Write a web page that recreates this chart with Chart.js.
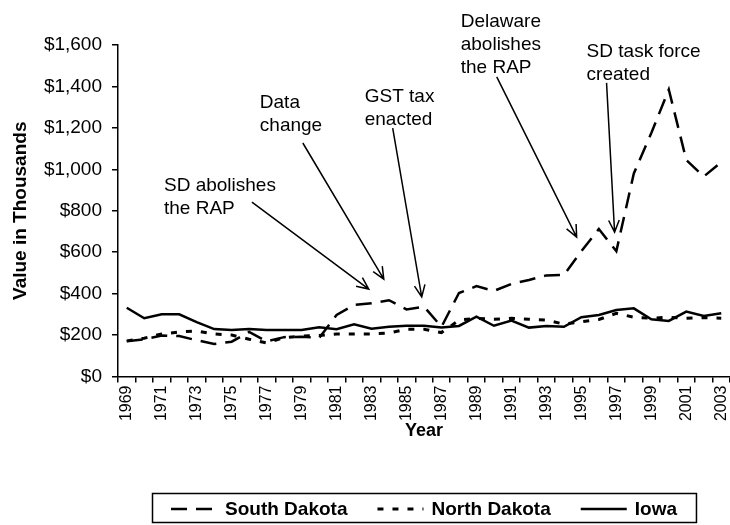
<!DOCTYPE html>
<html lang="en">
<head>
  <meta charset="UTF-8">
  <title>Value in Thousands</title>
  <script src="https://cdn.jsdelivr.net/npm/chart.js"></script>
  <style>
    body { margin: 0; background: #fff; }
  </style>
</head>
<body>
  <canvas id="valueChart" width="730" height="525"></canvas>

  <script>
    var years = ["1969", "1970", "1971", "1972", "1973", "1974", "1975", "1976", "1977", "1978",
      "1979", "1980", "1981", "1982", "1983", "1984", "1985", "1986", "1987", "1988",
      "1989", "1990", "1991", "1992", "1993", "1994", "1995", "1996", "1997", "1998",
      "1999", "2000", "2001", "2002", "2003"];

    var southDakota = [170, 180, 198, 195, 175, 157, 168, 215, 170, 190,
      192, 186, 297, 345, 353, 368, 324, 337, 240, 403,
      436, 413, 447, 466, 488, 490, 605, 712, 605, 980,
      1175, 1385, 1045, 965, 1035];

    var northDakota = [172, 185, 205, 215, 220, 205, 200, 180, 162, 188,
      195, 198, 205, 205, 205, 210, 228, 228, 212, 272,
      281, 276, 281, 276, 272, 253, 264, 275, 305, 286,
      281, 286, 281, 284, 281];

    var iowa = [332, 281, 300, 300, 262, 229, 224, 229, 224, 224,
      224, 238, 228, 252, 231, 240, 245, 245, 237, 244,
      289, 245, 270, 236, 244, 240, 286, 297, 321, 329,
      276, 268, 313, 292, 305];

    var yTicks = [0, 200, 400, 600, 800, 1000, 1200, 1400, 1600];

    // callouts, placed in [year, value] units
    var notes = [
      { text: ["SD abolishes", "the RAP"], at: [1971.13, 895], from: [1976.16, 842], to: [1982.84, 422] },
      { text: ["Data", "change"], at: [1976.61, 1296], from: [1979.07, 1127], to: [1983.70, 470] },
      { text: ["GST tax", "enacted"], at: [1982.61, 1325], from: [1984.21, 1199], to: [1985.87, 384] },
      { text: ["Delaware", "abolishes", "the RAP"], at: [1988.10, 1687], from: [1990.16, 1446], to: [1994.73, 673] },
      { text: ["SD task force", "created"], at: [1995.30, 1542], from: [1996.44, 1417], to: [1996.90, 697] }
    ];

    var font = 'Arial, "Liberation Sans", sans-serif';

    var notesPlugin = {
      id: "notes",
      afterDatasetsDraw(chart) {
        var ctx = chart.ctx;
        var sx = chart.scales.x, sy = chart.scales.y;
        function px(p) {
          return [sx.getPixelForValue(p[0] - 1969), sy.getPixelForValue(p[1])];
        }
        ctx.save();
        ctx.fillStyle = "#000";
        ctx.strokeStyle = "#000";
        ctx.lineWidth = 1.5;
        ctx.font = "19px " + font;
        ctx.textBaseline = "alphabetic";
        notes.forEach(function (n) {
          var t = px(n.at);
          n.text.forEach(function (line, i) {
            ctx.fillText(line, t[0], t[1] + i * 23);
          });
          var a = px(n.from), b = px(n.to);
          var ang = Math.atan2(b[1] - a[1], b[0] - a[0]);
          ctx.beginPath();
          ctx.moveTo(a[0], a[1]);
          ctx.lineTo(b[0], b[1]);
          ctx.moveTo(b[0] - 13 * Math.cos(ang - 0.42), b[1] - 13 * Math.sin(ang - 0.42));
          ctx.lineTo(b[0], b[1]);
          ctx.lineTo(b[0] - 13 * Math.cos(ang + 0.42), b[1] - 13 * Math.sin(ang + 0.42));
          ctx.stroke();
        });
        ctx.restore();
      }
    };

    var legendPlugin = {
      id: "boxLegend",
      afterDraw(chart) {
        var ctx = chart.ctx, area = chart.chartArea;
        var sample = 46, gap = 8, space = 30, pad = 19;
        ctx.save();
        ctx.font = "bold 19px " + font;
        var items = chart.data.datasets.map(function (d) {
          return { d: d, w: ctx.measureText(d.label).width };
        });
        var total = space * (items.length - 1);
        items.forEach(function (it) { total += sample + gap + it.w; });
        var x = (area.left + area.right) / 2 - total / 2;
        var top = 493, h = 29, mid = 509;
        ctx.strokeStyle = "#000";
        ctx.lineWidth = 1.5;
        ctx.strokeRect(Math.round(x - pad) + 0.5, top + 0.5, total + 2 * pad, h);
        ctx.fillStyle = "#000";
        ctx.textBaseline = "middle";
        items.forEach(function (it) {
          ctx.beginPath();
          ctx.lineWidth = it.d.borderWidth;
          ctx.setLineDash(it.d.borderDash || []);
          ctx.moveTo(x, mid);
          ctx.lineTo(x + sample, mid);
          ctx.stroke();
          ctx.setLineDash([]);
          ctx.fillText(it.d.label, x + sample + gap, mid + 1);
          x += sample + gap + it.w + space;
        });
        ctx.restore();
      }
    };

    new Chart("valueChart", {
      type: "line",
      data: {
        labels: years,
        datasets: [
          { label: "South Dakota", data: southDakota, borderColor: "#000", borderWidth: 2.5, borderDash: [16, 9], pointRadius: 0, fill: false },
          { label: "North Dakota", data: northDakota, borderColor: "#000", borderWidth: 3, borderDash: [6, 9], pointRadius: 0, fill: false },
          { label: "Iowa", data: iowa, borderColor: "#000", borderWidth: 2.5, pointRadius: 0, fill: false }
        ]
      },
      options: {
        responsive: false,
        animation: false,
        events: [],
        layout: { padding: { top: 45, left: 0, right: 0, bottom: 79.5 } },
        plugins: {
          legend: { display: false },
          tooltip: { enabled: false }
        },
        scales: {
          x: {
            offset: true,
            afterFit: function (s) { s.paddingLeft = 0; s.paddingRight = 0; s.height = 69; },
            border: { color: "#000", width: 1.5 },
            grid: { offset: true, drawOnChartArea: false, color: "#000", lineWidth: 1.5, tickLength: 6 },
            ticks: {
              autoSkip: false, minRotation: 90, maxRotation: 90, padding: 3, color: "#000",
              font: { family: font, size: 16 },
              callback: function (v, i) { return i % 2 === 0 ? years[i] : ""; }
            },
            title: { display: true, text: "Year", color: "#000", font: { family: font, size: 18, weight: "bold" }, padding: { top: 4, bottom: 4 } }
          },
          y: {
            min: 0, max: 1600,
            afterFit: function (s) { s.width = 118; },
            afterBuildTicks: function (s) { s.ticks = yTicks.map(function (v) { return { value: v }; }); },
            border: { color: "#000", width: 1.5 },
            grid: { drawOnChartArea: false, color: "#000", lineWidth: 1.5, tickLength: 6 },
            ticks: {
              padding: 10, color: "#000",
              font: { family: font, size: 19 },
              callback: function (v) { return "$" + v.toLocaleString("en-US"); }
            },
            title: { display: true, text: "Value in Thousands", color: "#000", font: { family: font, size: 19, weight: "bold" }, padding: { top: 9, bottom: 0 } }
          }
        }
      },
      plugins: [notesPlugin, legendPlugin]
    });
  </script>
</body>
</html>
